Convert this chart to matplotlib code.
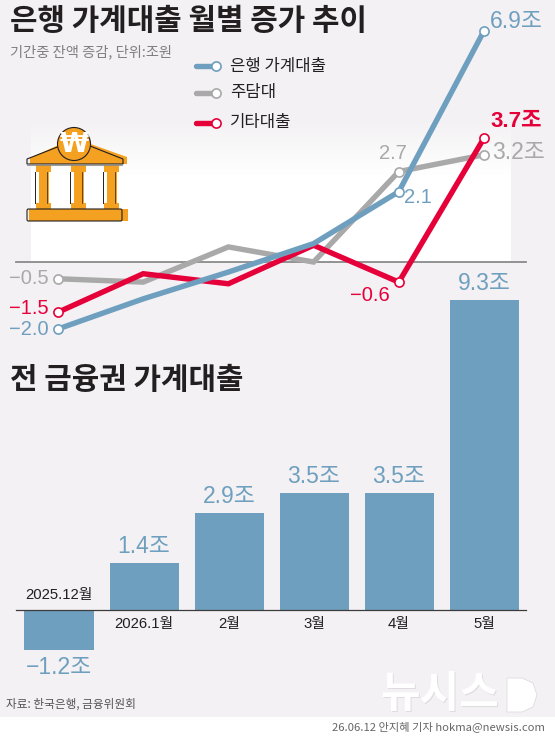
import numpy as np
import matplotlib
matplotlib.use("Agg")
import matplotlib.pyplot as plt
from matplotlib.patches import Polygon, Circle, FancyBboxPatch, Rectangle
from matplotlib.colors import LinearSegmentedColormap

W, H = 555, 736
BG = "#f3f1f3"
BLUE = "#6f9fbf"
GRAY = "#a9a9a9"
RED = "#e6003a"
ORANGE = "#f4a020"
INK = "#231f20"

KR = ["Noto Sans CJK KR", "DejaVu Sans"]
NUM = ["Liberation Sans", "Noto Sans CJK KR", "DejaVu Sans"]
plt.rcParams["font.family"] = KR

# monthly change, trillion won
bank_total = [-2.0, -1.1, -0.3, 0.55, 2.1, 6.9]
mortgage = [-0.5, -0.6, 0.45, 0.0, 2.7, 3.2]
other_loans = [-1.5, -0.35, -0.65, 0.5, -0.6, 3.7]
all_sector = [-1.2, 1.4, 2.9, 3.5, 3.5, 9.3]
months = ["2025.12월", "2026.1월", "2월", "3월", "4월", "5월"]


def px_axes(fig, top, bottom):
    ax = fig.add_axes([0, 1 - bottom / H, 1, (bottom - top) / H])
    ax.patch.set_alpha(0)
    ax.axis("off")
    return ax


fig = plt.figure(figsize=(W / 100, H / 100), dpi=100, facecolor="white")

# page background and white fading panel, in pixel coordinates
bg = px_axes(fig, 0, H)
bg.set_xlim(0, W)
bg.set_ylim(H, 0)
bg.add_patch(Rectangle((0, 0), W, 717, color=BG, lw=0))
fade = LinearSegmentedColormap.from_list("fade", [BG, "white"])
bg.imshow(np.linspace(0, 1, 64)[:, None], cmap=fade, aspect="auto",
          extent=(31, 511, 175, 118), zorder=1)
bg.add_patch(Rectangle((31, 175), 480, 87, color="white", lw=0, zorder=1))
bg.set_xlim(0, W)
bg.set_ylim(H, 0)

# line chart
ax = px_axes(fig, 0, 340)
ax.set_xlim(-58 / 85.2, (W - 58) / 85.2)
ax.set_ylim((262 - 340) / 33.5, 262 / 33.5)
ax.plot([(16 - 58) / 85.2, (526 - 58) / 85.2], [0, 0], color="#8a8a8a", lw=1.3, zorder=1)
x = np.arange(6)
for vals, col, z in [(mortgage, GRAY, 2), (other_loans, RED, 3), (bank_total, BLUE, 4)]:
    ax.plot(x, vals, color=col, lw=3.9, zorder=z, solid_joinstyle="miter",
            marker="o", markevery=[0, 4, 5], ms=6.6, mfc="white", mec=col, mew=1.2)


def note(a, xi, v, txt, dx, dy, col, size=15, weight="normal", ha="center", fam=NUM):
    a.annotate(txt, (xi, v), xytext=(dx * 0.72, -dy * 0.72), textcoords="offset points",
               color=col, fontsize=size, ha=ha, va="center", fontweight=weight, family=fam)


note(ax, 0, -0.5, "−0.5", -9, 0, GRAY, 14.5, ha="right")
note(ax, 0, -1.5, "−1.5", -9, -4, RED, 14.5, ha="right")
note(ax, 0, -2.0, "−2.0", -9, 1, BLUE, 14.5, ha="right")
note(ax, 4, 2.7, "2.7", -6, -18, GRAY, 14.5)
note(ax, 4, 2.1, "2.1", 19, 6, BLUE, 14.5)
note(ax, 4, -0.6, "−0.6", -29, 13, RED, 14.5)
note(ax, 5, 6.9, "6.9조", 32, -9, BLUE, 16.5)
note(ax, 5, 3.7, "3.7조", 32, -17, RED, 16, "bold")
note(ax, 5, 3.2, "3.2조", 35, -2, GRAY, 16.5)

# bar chart
bx = px_axes(fig, 280, 680)
bx.set_xlim(-59 / 85, (W - 59) / 85)
bx.set_ylim((610 - 680) / 33.3, (610 - 280) / 33.3)
bx.bar(x, all_sector, width=69 / 85, color=BLUE, lw=0, zorder=2)
bx.plot([(16 - 59) / 85, (526 - 59) / 85], [0, 0], color="#3c3c3c", lw=0.9, zorder=3)
for i, v in enumerate(all_sector):
    if v < 0:
        note(bx, i, v, f"−{abs(v)}조", 0, 18, BLUE, 16.5)
    else:
        note(bx, i, v, f"{v}조", 0, -17, BLUE, 16.5)
note(bx, 0, 0, months[0], 0, -15, INK, 10.7)
for i in range(1, 6):
    note(bx, i, 0, months[i], 0, 14, INK, 10.7)

# text, legend, bank icon, watermark on a pixel overlay
ov = px_axes(fig, 0, H)
ov.set_xlim(0, W)
ov.set_ylim(H, 0)
ov.text(10, 21, "은행 가계대출 월별 증가 추이", fontsize=21.5, fontweight="bold", color=INK, va="center")
ov.text(10, 52, "기간중 잔액 증감, 단위:조원", fontsize=10.3, color="#807e80", va="center")
ov.text(10, 380, "전 금융권 가계대출", fontsize=21.5, fontweight="bold", color=INK, va="center")
ov.text(6, 704, "자료: 한국은행, 금융위원회", fontsize=8.4, color="#555555", va="center")
ov.text(545, 727, "26.06.12 안지혜 기자 hokma@newsis.com", fontsize=8.1, color="#666666", va="center", ha="right")

for ly, col, lab in [(66, BLUE, "은행 가계대출"), (93, GRAY, "주담대"), (122.5, RED, "기타대출")]:
    ov.plot([196, 216], [ly, ly], color=col, lw=3.9, solid_capstyle="round")
    ov.plot([216], [ly], marker="o", ms=6.6, mfc="white", mec=col, mew=1.2)
    ov.text(230, ly, lab, fontsize=12, color=INK, va="center")

# bank icon: orange fill sits a few px right of the black outline
ov.add_patch(Polygon([(30, 164), (30, 158), (65, 142), (85, 142), (127, 157), (127, 164)], color=ORANGE, lw=0))
ov.add_patch(Polygon([(27, 159), (60, 146), (90, 146), (123, 159), (123, 164), (27, 164)],
                     fc="none", ec=INK, lw=0.8, zorder=3))
ov.add_patch(Rectangle((29, 209), 99, 12, color=ORANGE, lw=0))
ov.add_patch(FancyBboxPatch((27, 209), 95, 12, boxstyle="round,pad=0,rounding_size=1.5",
                            fc="none", ec=INK, lw=0.8, zorder=3))
ov.plot([28, 122], [164.5, 164.5], color="#888888", lw=1.2, zorder=3)
for cx in (35, 69.5, 102.5):
    ov.add_patch(Rectangle((cx + 4, 170), 10, 39, color=ORANGE, lw=0))
    ov.add_patch(Rectangle((cx + 1, 165), 15, 7, color=ORANGE, lw=0))
    ov.add_patch(Rectangle((cx + 1, 203), 15, 6, color=ORANGE, lw=0))
    ov.plot([cx, cx], [172, 203], color=INK, lw=0.7, zorder=3)
    ov.plot([cx + 12, cx + 12], [172, 203], color=INK, lw=0.5, zorder=3)
ov.add_patch(Circle((74, 144), 16.5, fc=ORANGE, ec=INK, lw=0.8, zorder=4))
ov.text(74, 144.5, "₩", fontsize=19, fontweight="bold", color="white", ha="center", va="center",
        zorder=5, family=["DejaVu Sans"])

# agency mark
ov.text(381, 695, "뉴시스", fontsize=31, fontweight="bold", color="#dedcde", va="center")
ov.text(380, 694, "뉴시스", fontsize=31, fontweight="bold", color="white", va="center")
ov.add_patch(Polygon([(507, 678), (522, 678), (533, 683), (537, 695), (533, 707), (522, 712), (507, 712)],
                     fc="white", ec="#dedcde", lw=0.6))

fig.savefig("out.png", dpi=100, facecolor="white")
